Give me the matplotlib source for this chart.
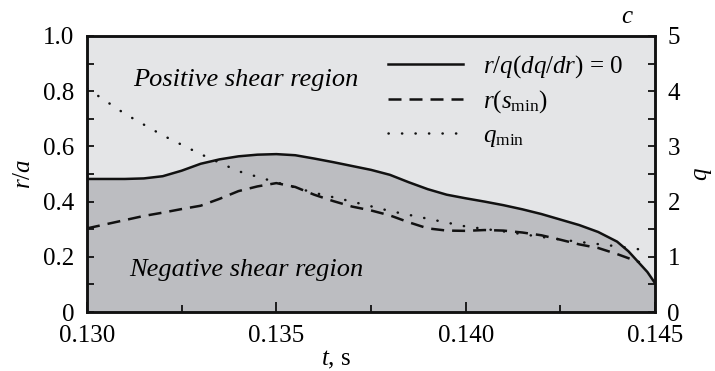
import matplotlib
matplotlib.use("Agg")
import matplotlib.pyplot as plt
from matplotlib.ticker import MultipleLocator, FixedLocator

plt.rcParams['font.family'] = ['Liberation Serif', 'DejaVu Serif']
plt.rcParams['mathtext.fontset'] = 'custom'
plt.rcParams['mathtext.rm'] = 'Liberation Serif'
plt.rcParams['mathtext.it'] = 'Liberation Serif:italic'
plt.rcParams['mathtext.bf'] = 'Liberation Serif:bold'

# --- data ---
t_solid = [0.1300, 0.1310, 0.1315, 0.1320, 0.1325, 0.1330, 0.1335, 0.1340, 0.1345,
           0.1350, 0.1355, 0.1360, 0.1365, 0.1370, 0.1375, 0.1380, 0.1385, 0.1390,
           0.1395, 0.1400, 0.1405, 0.1410, 0.1415, 0.1420, 0.1425, 0.1430, 0.1435,
           0.1440, 0.1443, 0.1445, 0.1448, 0.1450]
r_solid = [0.482, 0.482, 0.484, 0.492, 0.512, 0.537, 0.553, 0.564, 0.570,
           0.572, 0.568, 0.556, 0.543, 0.529, 0.515, 0.497, 0.470, 0.445,
           0.425, 0.412, 0.400, 0.387, 0.372, 0.355, 0.335, 0.315, 0.290,
           0.255, 0.220, 0.190, 0.145, 0.105]

t_smin = [0.1300, 0.1305, 0.1310, 0.1315, 0.1320, 0.1325, 0.1330, 0.1335, 0.1340,
          0.1345, 0.1350, 0.1355, 0.1360, 0.1365, 0.1370, 0.1375, 0.1380, 0.1385,
          0.1390, 0.1395, 0.1400, 0.1405, 0.1410, 0.1415, 0.1420, 0.1425, 0.1430,
          0.1435, 0.1440, 0.1446]
r_smin = [0.303, 0.318, 0.333, 0.348, 0.360, 0.373, 0.385, 0.410, 0.438,
          0.455, 0.467, 0.453, 0.425, 0.402, 0.382, 0.368, 0.350, 0.325,
          0.303, 0.295, 0.294, 0.297, 0.295, 0.288, 0.278, 0.262, 0.245,
          0.232, 0.210, 0.180]

t_qmin = [0.1300, 0.1310, 0.1320, 0.1330, 0.1340, 0.1350, 0.1360, 0.1370, 0.1380,
          0.1390, 0.1400, 0.1410, 0.1420, 0.1430, 0.1440, 0.1447]
q_min = [4.05, 3.59, 3.20, 2.86, 2.55, 2.35, 2.16, 2.00, 1.83,
         1.69, 1.55, 1.46, 1.36, 1.27, 1.19, 1.125]

x_ticks = [0.130, 0.135, 0.140, 0.145]
x_ticklabels = ['0.130', '0.135', '0.140', '0.145']
y_ticks = [0, 0.2, 0.4, 0.6, 0.8, 1.0]
y_ticklabels = ['0', '0.2', '0.4', '0.6', '0.8', '1.0']
q_ticks = [0, 1, 2, 3, 4, 5]

labels = [r'$r/q(dq/dr)$ = 0', r'$r(s_{\rm min})$', r'$q_{\rm min}$']

light = '#e4e5e7'
dark = '#bcbdc1'
FS = 18

fig = plt.figure(figsize=(7.15, 3.71), dpi=100)
ax = fig.add_axes([0.1217, 0.159, 0.7943, 0.744])
ax.set_facecolor(light)
ax.fill_between(t_solid, 0, r_solid, color=dark, lw=0, zorder=1)
l1, = ax.plot(t_solid, r_solid, color='#111111', lw=1.8, zorder=3)
l2, = ax.plot(t_smin, r_smin, color='#111111', lw=1.8, ls=(0, (5.2, 3.2)), zorder=3)
ax.set_xlim(0.130, 0.145)
ax.set_ylim(0, 1)

ax2 = ax.twinx()
l3, = ax2.plot(t_qmin, q_min, color='#111111', lw=1.8, ls=(0, (0.1, 5.3)),
               dash_capstyle='round', zorder=3)
ax2.set_ylim(0, 5)

ax.xaxis.set_major_locator(FixedLocator(x_ticks))
ax.set_xticklabels(x_ticklabels)
ax.xaxis.set_minor_locator(MultipleLocator(0.0025))
ax.yaxis.set_major_locator(FixedLocator(y_ticks))
ax.set_yticklabels(y_ticklabels)
ax.yaxis.set_minor_locator(MultipleLocator(0.1))
ax2.yaxis.set_major_locator(FixedLocator(q_ticks))
ax2.yaxis.set_minor_locator(MultipleLocator(0.5))

for a in (ax, ax2):
    a.tick_params(which='both', direction='in', labelsize=FS, width=1.3, color='#111111')
    a.tick_params(axis='y', which='both', length=4.8)
    for s in a.spines.values():
        s.set_linewidth(1.8)
        s.set_color('#111111')
ax.tick_params(axis='x', which='major', length=7.5, pad=9)
ax.tick_params(axis='x', which='minor', length=4.8)
ax.tick_params(axis='y', pad=9)
ax2.tick_params(axis='y', pad=9)

ax.set_ylabel(r'$r/a$', fontsize=FS, labelpad=6)
ax2.set_ylabel(r'$q$', fontsize=FS, labelpad=9)
ax.set_xlabel(r'$t$, s', fontsize=FS)
ax.xaxis.set_label_coords(0.438, -0.135)

ax.text(0.081, 0.84, 'Positive shear region', fontsize=19, style='italic',
        transform=ax.transAxes, va='center', ha='left')
ax.text(0.075, 0.154, 'Negative shear region', fontsize=19, style='italic',
        transform=ax.transAxes, va='center', ha='left')
fig.text(0.878, 0.955, r'$c$', fontsize=FS, ha='center', va='center')

ax2.legend([l1, l2, l3], labels, loc='upper left', bbox_to_anchor=(0.512, 0.975),
           frameon=False, fontsize=FS, handlelength=3.0, handletextpad=0.8,
           labelspacing=0.35, borderaxespad=0.0)

fig.savefig('out.png', dpi=100)
